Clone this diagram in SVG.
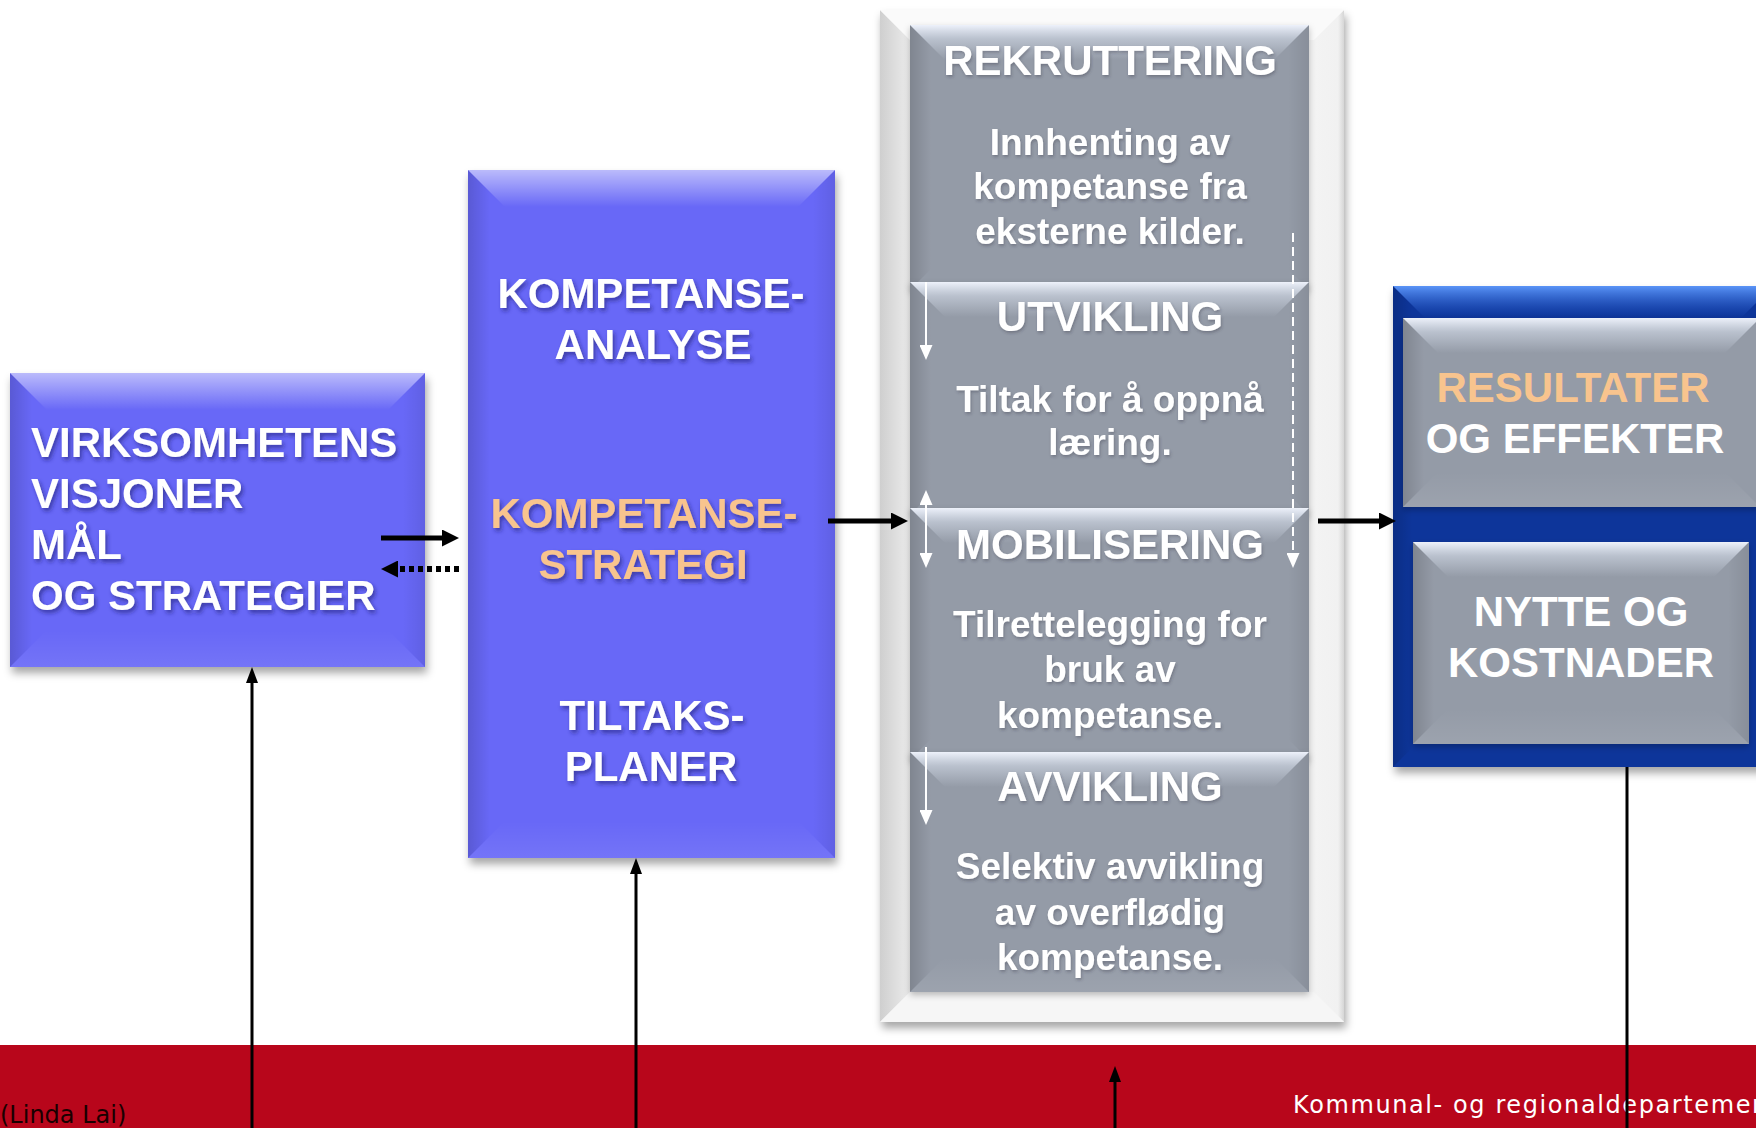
<svg xmlns="http://www.w3.org/2000/svg" width="1756" height="1128" viewBox="0 0 1756 1128">
  <style>
    .hd { font-family: "Liberation Sans", Arial, sans-serif; font-weight: bold; font-size: 42px; fill: #ffffff; text-anchor: middle; }
    .left { text-anchor: start; }
    .orange { fill: #f8c48e; }
    .body { font-family: "Liberation Sans", Arial, sans-serif; font-weight: bold; font-size: 37px; fill: #ffffff; text-anchor: middle; }
    .foot { font-family: "DejaVu Sans", Verdana, sans-serif; font-size: 24px; }
    .conn { stroke: #000000; fill: none; }
    .wconn { stroke: #ffffff; stroke-width: 2; fill: none; }
  </style>
  <defs>
    <!-- bevel shading -->
    <linearGradient id="hiTop" x1="0" y1="0" x2="0" y2="1">
      <stop offset="0" stop-color="#ffffff" stop-opacity="0.55"/>
      <stop offset="1" stop-color="#ffffff" stop-opacity="0"/>
    </linearGradient>
    <linearGradient id="hiTopGray" x1="0" y1="0" x2="0" y2="1">
      <stop offset="0" stop-color="#f2f6ff" stop-opacity="0.95"/>
      <stop offset="0.4" stop-color="#dfe7f4" stop-opacity="0.5"/>
      <stop offset="1" stop-color="#dfe7f4" stop-opacity="0"/>
    </linearGradient>
    <linearGradient id="hiTopNavy" x1="0" y1="0" x2="0" y2="1">
      <stop offset="0" stop-color="#5a94f7" stop-opacity="1"/>
      <stop offset="1" stop-color="#2a5fd0" stop-opacity="0"/>
    </linearGradient>
    <linearGradient id="shLeft" x1="0" y1="0" x2="1" y2="0">
      <stop offset="0" stop-color="#000000" stop-opacity="0.14"/>
      <stop offset="0.6" stop-color="#000000" stop-opacity="0"/>
    </linearGradient>
    <linearGradient id="shRight" x1="1" y1="0" x2="0" y2="0">
      <stop offset="0" stop-color="#000000" stop-opacity="0.08"/>
      <stop offset="0.6" stop-color="#000000" stop-opacity="0"/>
    </linearGradient>
    <linearGradient id="hiBottom" x1="0" y1="1" x2="0" y2="0">
      <stop offset="0" stop-color="#ffffff" stop-opacity="0.08"/>
      <stop offset="1" stop-color="#ffffff" stop-opacity="0"/>
    </linearGradient>
    <linearGradient id="frameLeft" x1="0" y1="0" x2="1" y2="0">
      <stop offset="0" stop-color="#cfcfcf"/>
      <stop offset="1" stop-color="#ececec"/>
    </linearGradient>
    <linearGradient id="frameRight" x1="1" y1="0" x2="0" y2="0">
      <stop offset="0" stop-color="#d6d6d6"/>
      <stop offset="0.2" stop-color="#f1f1f1"/>
      <stop offset="1" stop-color="#f3f3f3"/>
    </linearGradient>

    <filter id="boxShadow" x="-10%" y="-10%" width="120%" height="120%">
      <feDropShadow dx="2" dy="6" stdDeviation="4" flood-color="#000000" flood-opacity="0.35"/>
    </filter>
    <filter id="secShadow" x="-10%" y="-10%" width="120%" height="120%">
      <feDropShadow dx="0" dy="3" stdDeviation="3" flood-color="#000000" flood-opacity="0.25"/>
    </filter>
    <filter id="txtBlue" x="-10%" y="-30%" width="120%" height="160%">
      <feDropShadow dx="2" dy="3" stdDeviation="2" flood-color="#1a1a70" flood-opacity="0.6"/>
    </filter>
    <filter id="txtGray" x="-10%" y="-30%" width="120%" height="160%">
      <feDropShadow dx="1" dy="2" stdDeviation="1.5" flood-color="#303540" flood-opacity="0.35"/>
    </filter>

    <marker id="ahBig" viewBox="0 0 17 17" markerWidth="17" markerHeight="17" refX="7" refY="8.5" orient="auto" markerUnits="userSpaceOnUse">
      <path d="M0,0 L17,8.5 L0,17 z" fill="#000000"/>
    </marker>
    <marker id="ahThin" viewBox="0 0 16 12" markerWidth="16" markerHeight="12" refX="6" refY="6" orient="auto" markerUnits="userSpaceOnUse">
      <path d="M0,0 L16,6 L0,12 z" fill="#000000"/>
    </marker>
    <marker id="ahWhite" viewBox="0 0 15 13" markerWidth="15" markerHeight="13" refX="5" refY="6.5" orient="auto-start-reverse" markerUnits="userSpaceOnUse">
      <path d="M0,0 L15,6.5 L0,13 z" fill="#ffffff"/>
    </marker>
  </defs>

  <rect width="1756" height="1128" fill="#ffffff"/>

  <!-- footer band -->
  <g id="footer">
    <rect x="0" y="1045" width="1756" height="83" fill="#b8061b"/>
    <text class="foot" x="0" y="1123" fill="#1a0000">(Linda Lai)</text>
    <text class="foot" x="1293" y="1113" fill="#ffffff" font-size="25" letter-spacing="1.6">Kommunal- og regionaldepartementet</text>
  </g>

  <!-- vision / goals -->
  <g id="visjoner">
    <g filter="url(#boxShadow)">
      <rect x="10" y="373" width="415" height="294" fill="#6767f7"/>
    </g>
    <polygon points="10,373 47,410 47,630 10,667" fill="url(#shLeft)"/>
    <polygon points="425,373 425,667 388,630 388,410" fill="url(#shRight)"/>
    <polygon points="10,667 425,667 388,630 47,630" fill="url(#hiBottom)"/>
    <polygon points="10,373 425,373 388,410 47,410" fill="url(#hiTop)"/>
    <g filter="url(#txtBlue)">
      <text class="hd left" x="31" y="457">VIRKSOMHETENS</text>
      <text class="hd left" x="31" y="508">VISJONER</text>
      <text class="hd left" x="31" y="559">MÅL</text>
      <text class="hd left" x="31" y="610">OG STRATEGIER</text>
    </g>
  </g>

  <!-- competence analysis / strategy / plans -->
  <g id="kompetanse">
    <g filter="url(#boxShadow)">
      <rect x="468" y="170" width="367" height="688" fill="#6767f7"/>
    </g>
    <polygon points="468,170 505,207 505,821 468,858" fill="url(#shLeft)"/>
    <polygon points="835,170 835,858 798,821 798,207" fill="url(#shRight)"/>
    <polygon points="468,858 835,858 798,821 505,821" fill="url(#hiBottom)"/>
    <polygon points="468,170 835,170 798,207 505,207" fill="url(#hiTop)"/>
    <g filter="url(#txtBlue)">
      <text class="hd" x="651" y="308">KOMPETANSE-</text>
      <text class="hd" x="653" y="359">ANALYSE</text>
      <text class="hd orange" x="644" y="528">KOMPETANSE-</text>
      <text class="hd orange" x="643" y="579">STRATEGI</text>
      <text class="hd" x="652" y="730">TILTAKS-</text>
      <text class="hd" x="651" y="781">PLANER</text>
    </g>
  </g>

  <!-- light frame behind the four phases -->
  <g id="fase-ramme">
    <g filter="url(#boxShadow)">
      <rect x="880" y="10" width="464" height="1012" fill="#f3f3f3"/>
    </g>
    <polygon points="880,10 910,40 910,992 880,1022" fill="url(#frameLeft)"/>
    <polygon points="1344,10 1344,1022 1314,992 1314,40" fill="url(#frameRight)"/>
    <polygon points="880,10 1344,10 1314,40 910,40" fill="#fafafa"/>
    <polygon points="880,1022 1344,1022 1314,992 910,992" fill="#f6f6f6"/>
  </g>

  <!-- phase: recruitment -->
  <g id="rekruttering">
    <g filter="url(#secShadow)">
      <rect x="910" y="25" width="399" height="265" fill="#949ba7"/>
    </g>
    <polygon points="910,25 945,60 945,255 910,290" fill="url(#shLeft)"/>
    <polygon points="1309,25 1309,290 1274,255 1274,60" fill="url(#shRight)"/>
    <polygon points="910,25 1309,25 1274,60 945,60" fill="url(#hiTopGray)"/>
    <g filter="url(#txtGray)">
      <text class="hd" x="1110" y="75">REKRUTTERING</text>
      <text class="body" x="1110" y="155">Innhenting av</text>
      <text class="body" x="1110" y="199">kompetanse fra</text>
      <text class="body" x="1110" y="244">eksterne kilder.</text>
    </g>
  </g>

  <!-- phase: development -->
  <g id="utvikling">
    <g filter="url(#secShadow)">
      <rect x="910" y="282" width="399" height="233" fill="#949ba7"/>
    </g>
    <polygon points="910,282 945,317 945,480 910,515" fill="url(#shLeft)"/>
    <polygon points="1309,282 1309,515 1274,480 1274,317" fill="url(#shRight)"/>
    <polygon points="910,282 1309,282 1274,317 945,317" fill="url(#hiTopGray)"/>
    <g filter="url(#txtGray)">
      <text class="hd" x="1110" y="331">UTVIKLING</text>
      <text class="body" x="1110" y="412">Tiltak for å oppnå</text>
      <text class="body" x="1110" y="455">læring.</text>
    </g>
  </g>

  <!-- phase: mobilisation -->
  <g id="mobilisering">
    <g filter="url(#secShadow)">
      <rect x="910" y="508" width="399" height="252" fill="#949ba7"/>
    </g>
    <polygon points="910,508 945,543 945,725 910,760" fill="url(#shLeft)"/>
    <polygon points="1309,508 1309,760 1274,725 1274,543" fill="url(#shRight)"/>
    <polygon points="910,508 1309,508 1274,543 945,543" fill="url(#hiTopGray)"/>
    <g filter="url(#txtGray)">
      <text class="hd" x="1110" y="559">MOBILISERING</text>
      <text class="body" x="1110" y="637">Tilrettelegging for</text>
      <text class="body" x="1110" y="682">bruk av</text>
      <text class="body" x="1110" y="728">kompetanse.</text>
    </g>
  </g>

  <!-- phase: phasing out -->
  <g id="avvikling">
    <g filter="url(#secShadow)">
      <rect x="910" y="752" width="399" height="240" fill="#949ba7"/>
    </g>
    <polygon points="910,752 945,787 945,957 910,992" fill="url(#shLeft)"/>
    <polygon points="1309,752 1309,992 1274,957 1274,787" fill="url(#shRight)"/>
    <polygon points="910,992 1309,992 1274,957 945,957" fill="url(#hiBottom)"/>
    <polygon points="910,752 1309,752 1274,787 945,787" fill="url(#hiTopGray)"/>
    <g filter="url(#txtGray)">
      <text class="hd" x="1110" y="801">AVVIKLING</text>
      <text class="body" x="1110" y="879">Selektiv avvikling</text>
      <text class="body" x="1110" y="925">av overflødig</text>
      <text class="body" x="1110" y="970">kompetanse.</text>
    </g>
  </g>

  <!-- results container -->
  <g id="resultater">
    <g filter="url(#boxShadow)">
      <rect x="1393" y="286" width="380" height="481" fill="#08359a"/>
    </g>
    <polygon points="1393,286 1425,318 1425,735 1393,767" fill="url(#shLeft)"/>
    <polygon points="1393,286 1773,286 1741,318 1425,318" fill="url(#hiTopNavy)"/>
    <g filter="url(#secShadow)">
      <rect x="1403" y="318" width="357" height="189" fill="#949ba7"/>
    </g>
    <polygon points="1403,318 1438,353 1438,472 1403,507" fill="url(#shLeft)"/>
    <polygon points="1403,507 1760,507 1725,472 1438,472" fill="url(#hiBottom)"/>
    <polygon points="1403,318 1760,318 1725,353 1438,353" fill="url(#hiTopGray)"/>
    <text class="hd orange" x="1573" y="402">RESULTATER</text>
    <text class="hd" x="1575" y="453">OG EFFEKTER</text>
  </g>

  <g id="nytte">
    <g filter="url(#secShadow)">
      <rect x="1413" y="542" width="336" height="202" fill="#949ba7"/>
    </g>
    <polygon points="1413,542 1448,577 1448,709 1413,744" fill="url(#shLeft)"/>
    <polygon points="1749,542 1749,744 1714,709 1714,577" fill="url(#shRight)"/>
    <polygon points="1413,744 1749,744 1714,709 1448,709" fill="url(#hiBottom)"/>
    <polygon points="1413,542 1749,542 1714,577 1448,577" fill="url(#hiTopGray)"/>
    <text class="hd" x="1581" y="626">NYTTE OG</text>
    <text class="hd" x="1581" y="677">KOSTNADER</text>
  </g>

  <!-- connectors -->
  <g id="connectors">
    <line class="conn" x1="381" y1="538" x2="449" y2="538" stroke-width="5" marker-end="url(#ahBig)"/>
    <line class="conn" x1="459" y1="569" x2="391" y2="569" stroke-width="6" stroke-dasharray="5 4" marker-end="url(#ahBig)"/>
    <line class="conn" x1="828" y1="521" x2="898" y2="521" stroke-width="5" marker-end="url(#ahBig)"/>
    <line class="conn" x1="1318" y1="521" x2="1386" y2="521" stroke-width="5" marker-end="url(#ahBig)"/>

    <line class="conn" x1="252" y1="1128" x2="252" y2="677" stroke-width="3" marker-end="url(#ahThin)"/>
    <line class="conn" x1="636" y1="1128" x2="636" y2="868" stroke-width="3" marker-end="url(#ahThin)"/>
    <line class="conn" x1="1115" y1="1128" x2="1115" y2="1076" stroke-width="3" marker-end="url(#ahThin)"/>
    <line class="conn" x1="1627" y1="767" x2="1627" y2="1128" stroke-width="3"/>

    <line class="wconn" x1="926" y1="282" x2="926" y2="350" marker-end="url(#ahWhite)"/>
    <line class="wconn" x1="926" y1="500" x2="926" y2="558" marker-start="url(#ahWhite)" marker-end="url(#ahWhite)"/>
    <line class="wconn" x1="926" y1="747" x2="926" y2="815" marker-end="url(#ahWhite)"/>
    <line class="wconn" x1="1293" y1="233" x2="1293" y2="558" stroke-dasharray="9 5" marker-end="url(#ahWhite)"/>
  </g>
</svg>
